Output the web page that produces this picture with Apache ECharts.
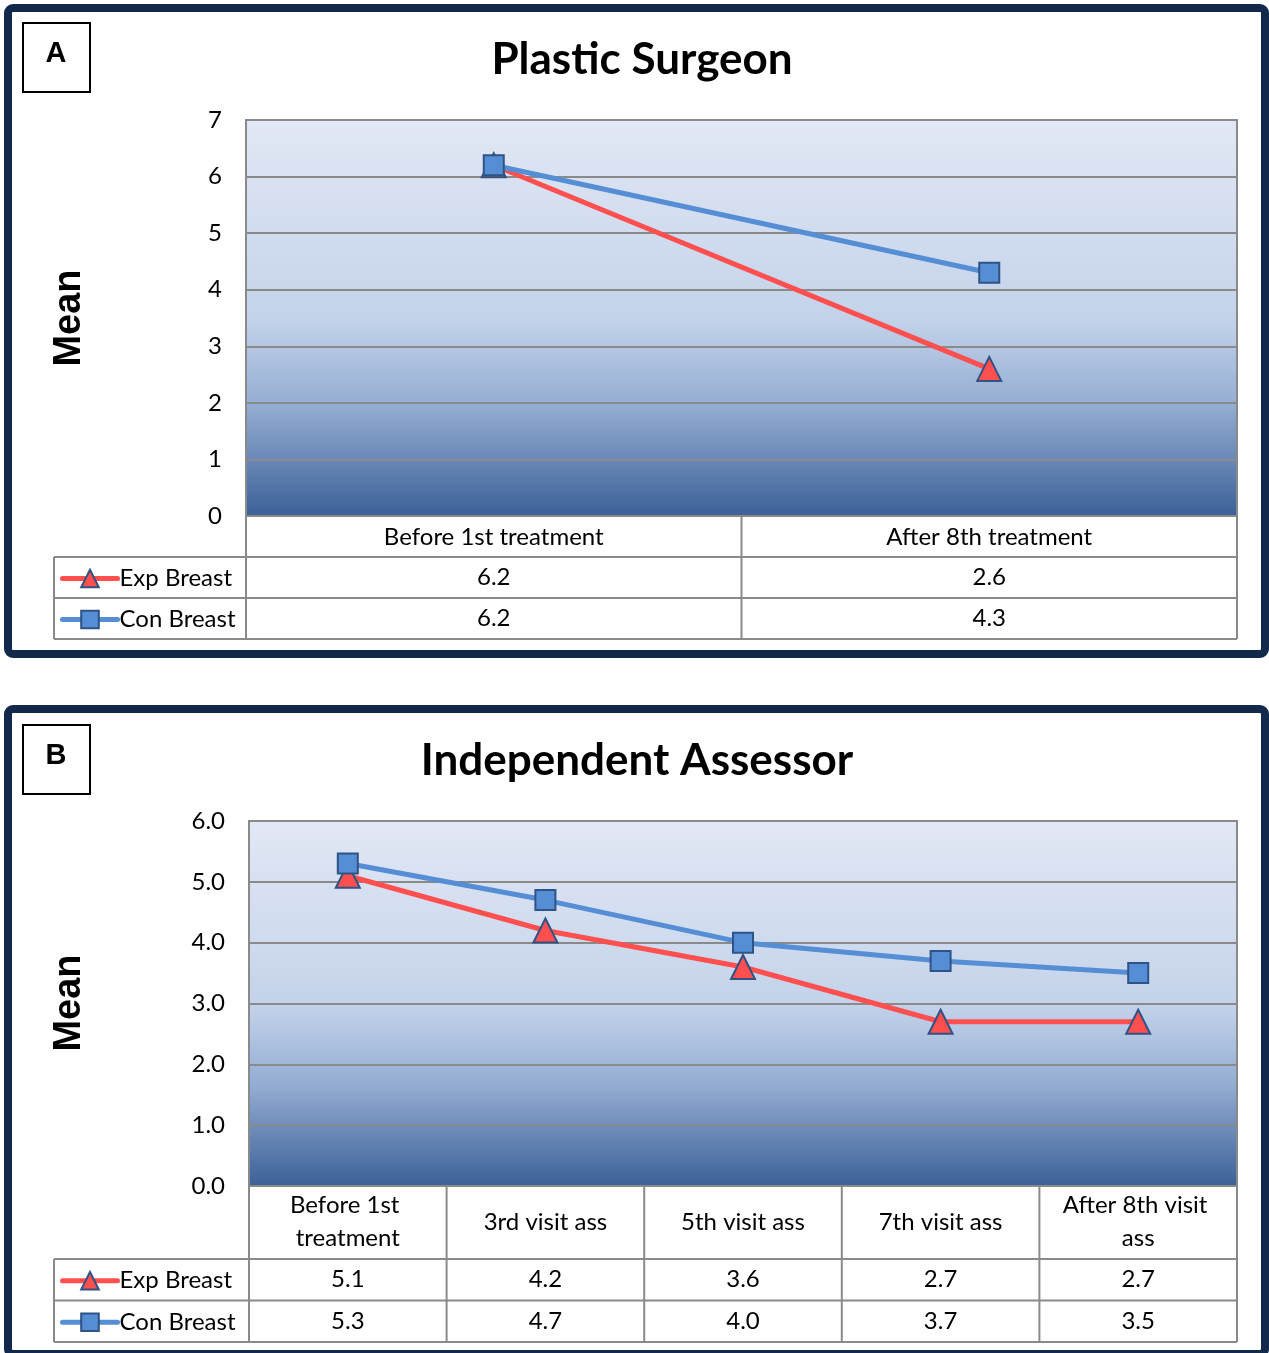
<!DOCTYPE html>
<html>
<head>
<meta charset="utf-8">
<title>Mean scores: Plastic Surgeon and Independent Assessor</title>
<script src="https://cdn.jsdelivr.net/npm/echarts@6/dist/echarts.min.js"></script>
<style>
  html, body { margin: 0; padding: 0; background: #ffffff; }
  #chart { width: 1269px; height: 1353px; }
</style>
</head>
<body>
<div id="chart"></div>
<script>
// ---- Data ----
const seriesNames = ['Exp Breast', 'Con Breast'];

const surgeonTitle = 'Plastic Surgeon';
const surgeonCategories = ['Before 1st treatment', 'After 8th treatment'];
const surgeonExp = [6.2, 2.6];
const surgeonCon = [6.2, 4.3];
const surgeonAxis = { min: 0, max: 7, interval: 1, decimals: 0 };

const assessorTitle = 'Independent Assessor';
const assessorCategories = ['Before 1st treatment', '3rd visit ass', '5th visit ass', '7th visit ass', 'After 8th visit ass'];
const assessorExp = [5.1, 4.2, 3.6, 2.7, 2.7];
const assessorCon = [5.3, 4.7, 4.0, 3.7, 3.5];
const assessorAxis = { min: 0, max: 6, interval: 1, decimals: 1 };

// ---- Layout ----
const FONT = 'Lato, "Open Sans", sans-serif';
const FS = 24;
const GRID_LINE = '#8a8a8a';
const NAVY = '#13294b';
const RED = '#ff4f4f';
const BLUE = '#558ed5';
const MARKER_EDGE = '#2f5384';

const panels = [
  {
    key: 'A', title: surgeonTitle, categories: surgeonCategories,
    values: [surgeonExp, surgeonCon], axis: surgeonAxis,
    frame: { x: 8, y: 8, w: 1257, h: 646 },
    badge: { x: 23, y: 23 },
    titleY: 60, titleX: 637,
    grid: { left: 246, top: 120, width: 991, height: 396 },
    headerH: 41, rowH: 41, tableLeft: 54,
    labelMargin: 21, labelWidth: 480, meanY: 318
  },
  {
    key: 'B', title: assessorTitle, categories: assessorCategories,
    values: [assessorExp, assessorCon], axis: assessorAxis,
    frame: { x: 8, y: 709, w: 1257, h: 645 },
    badge: { x: 23, y: 725 },
    titleY: 761, titleX: 632,
    grid: { left: 249, top: 821, width: 988, height: 365 },
    headerH: 73, rowH: 41.5, tableLeft: 54,
    labelMargin: 36, labelWidth: 165, meanY: 1003
  }
];

const grids = [], xAxes = [], yAxes = [], series = [], legends = [], titles = [], graphics = [];

panels.forEach(function (p, pi) {
  const g = p.grid;
  grids.push({
    left: g.left, top: g.top, width: g.width, height: g.height,
    show: true,
    borderColor: GRID_LINE, borderWidth: 2,
    backgroundColor: new echarts.graphic.LinearGradient(0, 0, 0, 1, [
      { offset: 0, color: '#e2e8f5' },
      { offset: 0.5, color: '#c4d3ea' },
      { offset: 0.72, color: '#94add3' },
      { offset: 1, color: '#3b6097' }
    ])
  });

  xAxes.push({
    gridIndex: pi, type: 'category', data: p.categories, boundaryGap: true,
    axisLine: { show: true, lineStyle: { color: GRID_LINE, width: 2 } },
    axisTick: { show: false },
    axisLabel: {
      interval: 0, margin: p.labelMargin, verticalAlign: 'middle',
      color: '#000', fontFamily: FONT, fontSize: FS, lineHeight: 33,
      width: p.labelWidth, overflow: 'break', align: 'center'
    }
  });

  yAxes.push({
    gridIndex: pi, type: 'value',
    min: p.axis.min, max: p.axis.max, interval: p.axis.interval,
    axisLine: { show: false }, axisTick: { show: false },
    axisLabel: {
      margin: 24, color: '#000', fontFamily: FONT, fontSize: FS,
      formatter: function (v) { return v.toFixed(p.axis.decimals); }
    },
    splitLine: { show: true, lineStyle: { color: GRID_LINE, width: 2 } }
  });

  // Exp Breast (red triangles) then Con Breast (blue squares) on top
  series.push({
    name: seriesNames[0], type: 'line', xAxisIndex: pi, yAxisIndex: pi,
    data: p.values[0], symbol: 'triangle', symbolSize: 24,
    lineStyle: { color: RED, width: 5, cap: 'round' },
    itemStyle: { color: RED, borderColor: MARKER_EDGE, borderWidth: 2 },
    emphasis: { disabled: true }, animation: false, z: 3
  });
  series.push({
    name: seriesNames[1], type: 'line', xAxisIndex: pi, yAxisIndex: pi,
    data: p.values[1], symbol: 'rect', symbolSize: 20,
    lineStyle: { color: BLUE, width: 5, cap: 'round' },
    itemStyle: { color: BLUE, borderColor: MARKER_EDGE, borderWidth: 2 },
    emphasis: { disabled: true }, animation: false, z: 4
  });

  const tableTop = g.top + g.height;
  const headerBottom = tableTop + p.headerH;
  const tableBottom = headerBottom + p.rowH * 2;
  const right = g.left + g.width;
  const bandW = g.width / p.categories.length;

  legends.push({
    data: seriesNames, orient: 'vertical',
    left: 60, top: headerBottom + p.rowH / 2 - 11,
    padding: 0,
    itemWidth: 55, itemHeight: 22, itemGap: p.rowH - 24,
    selectedMode: false,
    lineStyle: { width: 5, cap: 'round' },
    textStyle: { color: '#000', fontFamily: FONT, fontSize: FS, lineHeight: 22, padding: [0, 0, 0, -3] }
  });

  titles.push({
    text: p.title, left: p.titleX, top: p.titleY - 27, textAlign: 'center',
    textStyle: { color: '#000', fontFamily: FONT, fontWeight: 'bold', fontSize: 44 }
  });

  // panel frame
  graphics.push({
    type: 'rect', shape: { x: p.frame.x, y: p.frame.y, width: p.frame.w, height: p.frame.h, r: 5 },
    style: { fill: 'none', stroke: NAVY, lineWidth: 8 }, silent: true
  });
  // panel letter badge
  graphics.push({
    type: 'rect', shape: { x: p.badge.x, y: p.badge.y, width: 67, height: 69 },
    style: { fill: '#fff', stroke: '#000', lineWidth: 2 }, silent: true
  });
  graphics.push({
    type: 'text', x: p.badge.x + 33, y: p.badge.y + 31,
    style: { text: p.key, font: 'bold 29px "Liberation Sans", Arial, sans-serif', fill: '#000', align: 'center', verticalAlign: 'middle' },
    silent: true
  });
  // rotated y-axis title
  graphics.push({
    type: 'text', x: 70, y: p.meanY, rotation: Math.PI / 2,
    style: { text: 'Mean', font: 'bold 38px "Liberation Sans", Arial, sans-serif', fill: '#000', align: 'center', verticalAlign: 'middle' },
    silent: true
  });

  // data table lines
  const lineStyle = { stroke: GRID_LINE, lineWidth: 2 };
  function hline(y, x1, x2) {
    graphics.push({ type: 'line', shape: { x1: x1, y1: y, x2: x2, y2: y }, style: lineStyle, silent: true });
  }
  function vline(x, y1, y2) {
    graphics.push({ type: 'line', shape: { x1: x, y1: y1, x2: x, y2: y2 }, style: lineStyle, silent: true });
  }
  hline(headerBottom, p.tableLeft, right);
  hline(headerBottom + p.rowH, p.tableLeft, right);
  hline(tableBottom, p.tableLeft, right);
  vline(p.tableLeft, headerBottom, tableBottom);
  for (let j = 0; j <= p.categories.length; j++) {
    vline(g.left + j * bandW, tableTop, tableBottom);
  }
  // data table values
  p.values.forEach(function (row, ri) {
    row.forEach(function (v, j) {
      graphics.push({
        type: 'text', x: g.left + (j + 0.5) * bandW, y: headerBottom + (ri + 0.5) * p.rowH,
        style: { text: v.toFixed(1), font: FS + 'px ' + FONT, fill: '#000', align: 'center', verticalAlign: 'middle' },
        silent: true
      });
    });
  });
});

const chart = echarts.init(document.getElementById('chart'), null, { renderer: 'canvas' });
chart.setOption({
  animation: false,
  backgroundColor: '#ffffff',
  title: titles,
  grid: grids,
  xAxis: xAxes,
  yAxis: yAxes,
  legend: legends,
  series: series,
  graphic: { elements: graphics }
});
</script>
</body>
</html>
